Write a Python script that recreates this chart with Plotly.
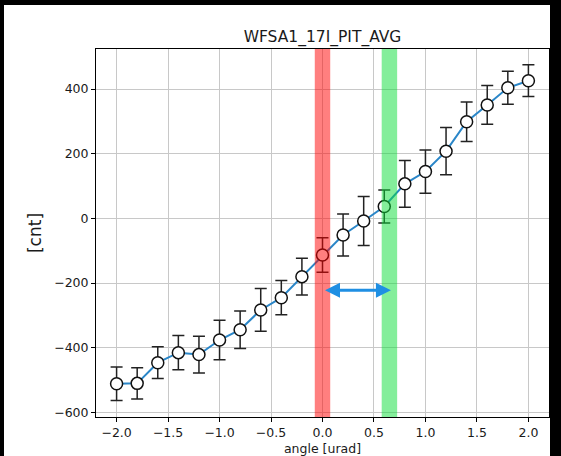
import plotly.graph_objects as go

# ---- data ----
angle = [-2.0, -1.8, -1.6, -1.4, -1.2, -1.0, -0.8, -0.6, -0.4, -0.2, 0.0,
         0.2, 0.4, 0.6, 0.8, 1.0, 1.2, 1.4, 1.6, 1.8, 2.0]
counts = [-511, -510, -446, -415, -421, -376, -344, -283, -245, -180, -113,
          -51, -8, 37, 107, 145, 208, 299, 351, 404, 426]
errors = [52, 48, 49, 53, 57, 61, 58, 66, 53, 57, 53,
          65, 76, 51, 72, 67, 73, 61, 60, 51, 49]

band_centers = [0.0, 0.65]
band_colors = ["rgba(255,0,0,0.5)", "rgba(10,222,55,0.5)"]

arrow_start = 0.01
arrow_end = 0.665
arrow_y = -222

x_ticks = [-2.0, -1.5, -1.0, -0.5, 0.0, 0.5, 1.0, 1.5, 2.0]
y_ticks = [-600, -400, -200, 0, 200, 400]

title_text = "WFSA1_17I_PIT_AVG"
x_label = "angle [urad]"
y_label = "[cnt]"

FONT = "DejaVu Sans"
W, H = 561, 456
ML, MR, MT, MB = 96, 12, 49, 39
PW, PH = W - ML - MR, H - MT - MB

fig = go.Figure()

fig.add_trace(go.Scatter(
    x=angle, y=counts, mode="lines",
    line=dict(color="#2a86c8", width=2),
    error_y=dict(type="data", array=errors, visible=True,
                 color="#222222", thickness=1.5, width=6),
    hoverinfo="skip", showlegend=False,
))
fig.add_trace(go.Scatter(
    x=angle, y=counts, mode="markers",
    marker=dict(size=12, color="white", line=dict(color="#111111", width=1.5)),
    showlegend=False,
))

band_w = 0.15
for c, col in zip(band_centers, band_colors):
    fig.add_shape(type="rect", xref="x", yref="paper",
                  x0=c - band_w / 2, x1=c + band_w / 2, y0=0, y1=1,
                  fillcolor=col, line=dict(width=0), layer="above")

# white figure area inside black surround
fig.add_shape(type="rect", xref="paper", yref="paper",
              x0=(4 - ML) / PW, x1=(550 - ML) / PW,
              y0=-0.3, y1=(H - MB - 5) / PH,
              fillcolor="white", line=dict(width=0), layer="below")

fig.add_annotation(
    x=arrow_end, y=arrow_y, ax=arrow_start, ay=arrow_y,
    xref="x", yref="y", axref="x", ayref="y",
    text="", showarrow=True, arrowside="end+start",
    arrowhead=2, startarrowhead=2, arrowsize=1, startarrowsize=1,
    arrowwidth=3, arrowcolor="#1f8fe3", standoff=0, startstandoff=0,
)

axis_common = dict(
    showgrid=True, gridcolor="#c8c8c8", gridwidth=1,
    showline=True, mirror=True, linecolor="black", linewidth=1,
    ticks="outside", ticklen=4, tickwidth=1, tickcolor="black",
    tickfont=dict(family=FONT, size=12.5, color="#1a1a1a"),
    zeroline=False,
)

fig.update_layout(
    width=W, height=H,
    margin=dict(l=ML, r=MR, t=MT, b=MB, autoexpand=False),
    paper_bgcolor="black", plot_bgcolor="white",
    font=dict(family=FONT, color="#1a1a1a"),
    title=dict(text=title_text, x=(ML + PW / 2) / W, xref="container",
               xanchor="center",
               y=1 - 37 / H, yref="container", yanchor="middle",
               font=dict(family=FONT, size=15.5, color="#1a1a1a")),
    xaxis=dict(range=[-2.2, 2.2], tickvals=x_ticks, tickformat=".1f",
               title=dict(text=x_label, standoff=6,
                          font=dict(family=FONT, size=12.5, color="#1a1a1a")),
               **axis_common),
    yaxis=dict(range=[-614, 524], tickvals=y_ticks,
               title=dict(text=y_label, standoff=8,
                          font=dict(family=FONT, size=17, color="#1a1a1a")),
               **axis_common),
    showlegend=False,
)

fig.write_html("out.html")
